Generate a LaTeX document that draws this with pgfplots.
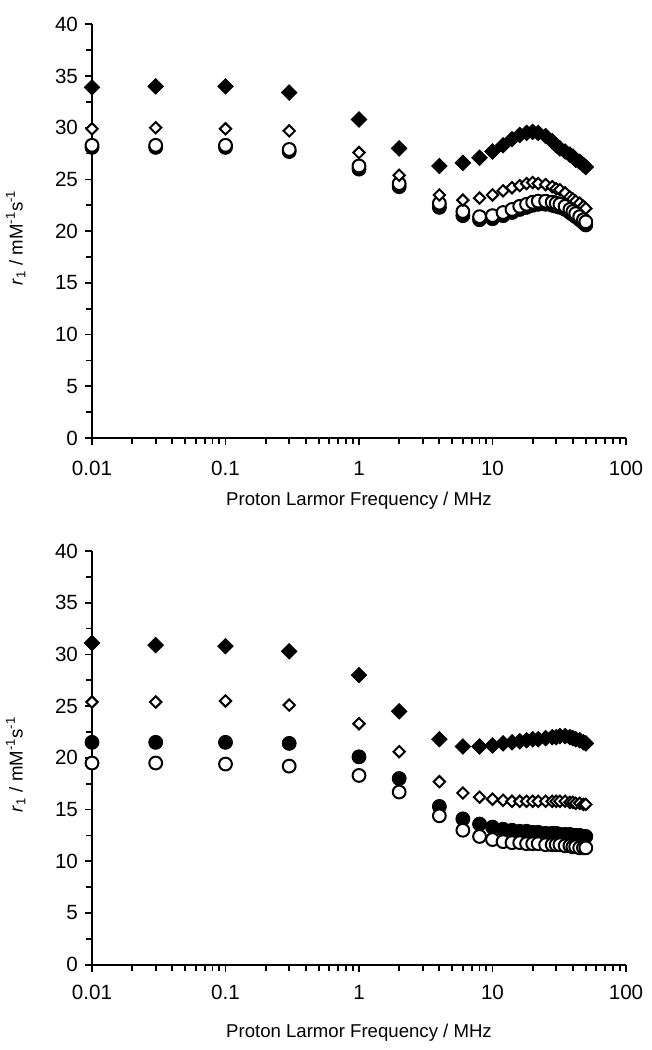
\documentclass[border=0pt]{standalone}
\usepackage{fontspec}
\setmainfont{Liberation Sans}
\usepackage{pgfplots}
\usepackage{pgfplotstable}
\pgfplotsset{compat=1.18}

\pgfplotstableread{
f a b c d
0.01 33.9 29.9 28.3 28.1
0.03 34.0 30.0 28.3 28.1
0.1 34.0 29.9 28.3 28.1
0.3 33.4 29.7 27.9 27.7
1 30.8 27.6 26.3 26.0
2 28.0 25.4 24.6 24.3
4 26.3 23.5 22.7 22.3
6 26.6 23.0 21.9 21.5
8 27.1 23.2 21.4 21.1
10 27.7 23.5 21.5 21.2
12 28.3 23.9 21.8 21.5
14 28.9 24.2 22.1 21.8
16 29.3 24.4 22.4 22.1
18 29.5 24.6 22.6 22.3
20 29.6 24.7 22.8 22.5
22 29.5 24.6 22.9 22.6
25 29.2 24.5 22.9 22.6
28 28.7 24.3 22.8 22.5
30 28.3 24.1 22.7 22.4
32 28.0 24.0 22.6 22.3
35 27.7 23.7 22.4 22.1
38 27.4 23.3 22.1 21.8
40 27.2 23.1 21.9 21.6
42 26.9 22.9 21.7 21.4
45 26.7 22.7 21.4 21.1
48 26.4 22.4 21.1 20.8
50 26.2 22.2 20.9 20.6
}\toptable

\pgfplotstableread{
f a b c d
0.01 31.1 25.4 19.5 21.5
0.03 30.9 25.4 19.5 21.5
0.1 30.8 25.5 19.4 21.5
0.3 30.3 25.1 19.2 21.4
1 28.0 23.3 18.3 20.1
2 24.5 20.6 16.7 18.0
4 21.8 17.7 14.4 15.3
6 21.1 16.6 13.0 14.1
8 21.1 16.2 12.4 13.6
10 21.2 16.0 12.1 13.3
12 21.4 15.9 11.9 13.1
14 21.5 15.8 11.8 13.0
16 21.6 15.8 11.8 12.9
18 21.7 15.8 11.7 12.9
20 21.8 15.8 11.7 12.8
22 21.8 15.8 11.7 12.8
25 21.9 15.8 11.6 12.7
28 22.0 15.8 11.6 12.7
30 22.0 15.8 11.6 12.7
32 22.1 15.8 11.6 12.6
35 22.1 15.8 11.5 12.6
38 22.0 15.7 11.5 12.6
40 21.9 15.7 11.4 12.5
42 21.8 15.6 11.4 12.5
45 21.7 15.6 11.3 12.5
48 21.5 15.5 11.3 12.4
50 21.4 15.5 11.3 12.4
}\bottable

\pgfplotsset{
  every axis/.append style={
    scale only axis, width=267pt, height=206.85pt,
    xmin=0.01, xmax=100, ymin=0, ymax=40,
    axis x line=bottom, axis y line=left,
    axis line style={-, line width=0.9pt},
    xtick={0.01,0.1,1,10,100}, xticklabels={0.01,0.1,1,10,100},
    ytick={0,5,...,40}, yticklabels={0,5,10,15,20,25,30,35,40},
    minor ytick={2.5,7.5,...,37.5},
    tick align=outside,
    major tick length=3.5pt, minor tick length=3pt,
    tick style={line width=0.9pt, black},
    tick label style={font=\fontsize{10.3}{12}\selectfont},
    label style={font=\fontsize{9.3}{11}\selectfont},
    xlabel={Proton Larmor Frequency / MHz},
    ylabel={\textit{r}\textsubscript{1} / mM\textsuperscript{-1}s\textsuperscript{-1}},
    y label style={at={(axis description cs:-0.143,0.484)}, anchor=center},
    clip=false,
  },
}

\begin{document}
\begin{tikzpicture}
\path[use as bounding box] (-46pt,-306pt) rectangle (280pt,219pt);
\begin{semilogxaxis}[at={(0,0)}, anchor=south west,
  xticklabel style={yshift=-4.75pt},
  x label style={at={(axis description cs:0.5,0)}, anchor=center, yshift=-31.5pt}]
\addplot[only marks, mark=*, mark size=3.5pt, mark options={fill=black, draw=black, line width=0.4pt}] table[x=f, y=d] {\toptable};
\addplot[only marks, mark=*, mark size=3.2pt, mark options={fill=white, draw=black, line width=1pt}] table[x=f, y=c] {\toptable};
\addplot[only marks, mark=square*, mark size=2pt, mark options={rotate=45, fill=white, draw=black, line width=1pt}] table[x=f, y=b] {\toptable};
\addplot[only marks, mark=square*, mark size=2.75pt, mark options={rotate=45, fill=black, draw=black, line width=0.4pt}] table[x=f, y=a] {\toptable};
\end{semilogxaxis}
\begin{semilogxaxis}[at={(0,-263.35pt)}, anchor=south west,
  xticklabel style={yshift=-3.25pt},
  x label style={at={(axis description cs:0.5,0)}, anchor=center, yshift=-34pt}]
\addplot[only marks, mark=*, mark size=3.5pt, mark options={fill=black, draw=black, line width=0.4pt}] table[x=f, y=d] {\bottable};
\addplot[only marks, mark=*, mark size=3.2pt, mark options={fill=white, draw=black, line width=1pt}] table[x=f, y=c] {\bottable};
\addplot[only marks, mark=square*, mark size=2pt, mark options={rotate=45, fill=white, draw=black, line width=1pt}] table[x=f, y=b] {\bottable};
\addplot[only marks, mark=square*, mark size=2.75pt, mark options={rotate=45, fill=black, draw=black, line width=0.4pt}] table[x=f, y=a] {\bottable};
\end{semilogxaxis}
\end{tikzpicture}
\end{document}
